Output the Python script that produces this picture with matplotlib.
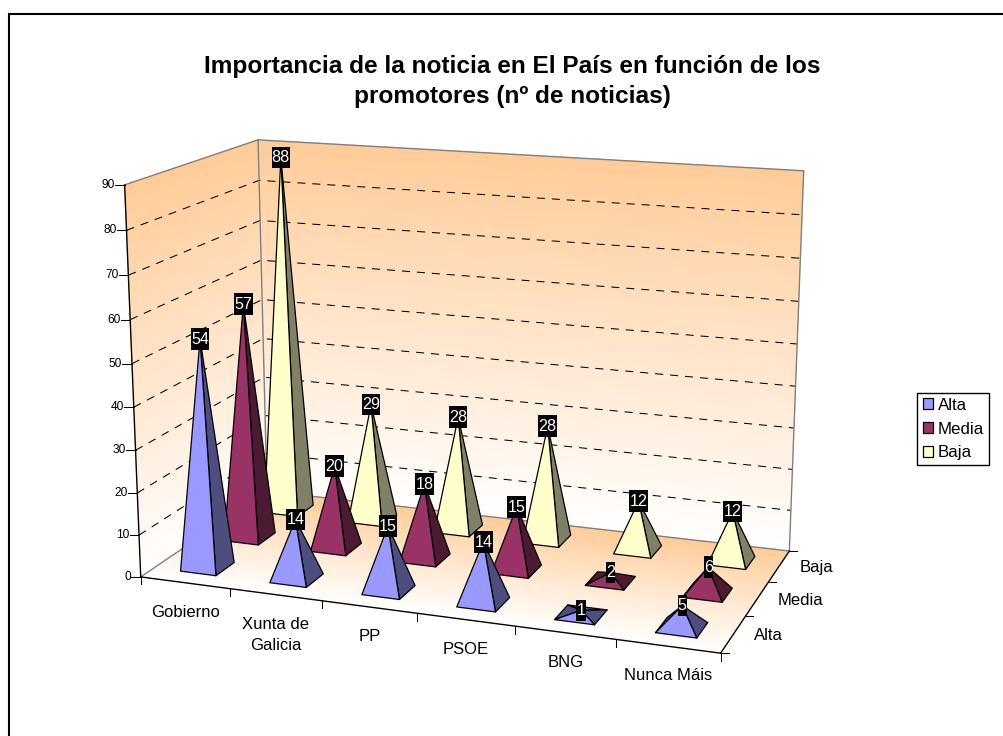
import numpy as np
import matplotlib
matplotlib.use("Agg")
import matplotlib.pyplot as plt
from matplotlib.colors import LinearSegmentedColormap
from matplotlib.patches import Patch, Polygon, Rectangle

plt.rcParams['font.family'] = ['Liberation Sans', 'DejaVu Sans']
plt.rcParams['lines.scale_dashes'] = False

# Chart data
categories = ["Gobierno", "Xunta de\nGalicia", "PP", "PSOE", "BNG", "Nunca Máis"]
series_names = ["Alta", "Media", "Baja"]
alta = [54, 14, 15, 14, 1, 5]
media = [57, 20, 18, 15, 2, 6]
baja = [88, 29, 28, 28, 12, 12]
value_ticks = [0, 10, 20, 30, 40, 50, 60, 70, 80, 90]
title_text = "Importancia de la noticia en El País en función de los\npromotores (nº de noticias)"

# Face colours per series: (lit front, shaded side)
face_colors = [("#9999FF", "#4D4D80"), ("#993366", "#4D1A33"), ("#FFFFCC", "#808066")]
WALL_TOP = "#FFCC99"

# Camera calibration: chart-space (category, depth, value) -> figure pixels
calib_world = np.array([
    [0, 0, 0], [1, 0, 0], [2, 0, 0], [3, 0, 0], [4, 0, 0], [5, 0, 0], [6, 0, 0],
    [6, 1, 0], [6, 2, 0], [6, 3, 0], [0, 3, 0],
    [0, 0, 90], [0, 3, 90], [6, 3, 90], [0, 0, 50], [0, 3, 40], [6, 3, 80],
], dtype=float)
calib_pixel = np.array([
    [141, 576], [230, 589], [322, 601.5], [417, 614], [515, 626], [616, 639], [721, 653],
    [745, 617], [769, 582], [789, 550], [268, 492],
    [125, 185], [258, 140], [804, 171], [132, 363], [262, 338], [802, 215],
], dtype=float)


def solve_camera(world, pixel):
    rows = []
    for (x, y, z), (px, py) in zip(world, pixel):
        z = z / 30.0
        rows.append([x, y, z, 1, 0, 0, 0, 0, -px * x, -px * y, -px * z, -px])
        rows.append([0, 0, 0, 0, x, y, z, 1, -py * x, -py * y, -py * z, -py])
    _, _, vt = np.linalg.svd(np.array(rows))
    return vt[-1].reshape(3, 4)


CAM = solve_camera(calib_world, calib_pixel)


def project(u, w, v):
    u, w, v = np.broadcast_arrays(np.asarray(u, float), np.asarray(w, float), np.asarray(v, float))
    d = CAM[2, 0] * u + CAM[2, 1] * w + CAM[2, 2] * v / 30.0 + CAM[2, 3]
    x = (CAM[0, 0] * u + CAM[0, 1] * w + CAM[0, 2] * v / 30.0 + CAM[0, 3]) / d
    y = (CAM[1, 0] * u + CAM[1, 1] * w + CAM[1, 2] * v / 30.0 + CAM[1, 3]) / d
    return x, y


fig = plt.figure(figsize=(10.04, 7.36), dpi=100, facecolor="white")
ax = fig.add_axes([0, 0, 1, 1])
ax.set_xlim(0, 1004)
ax.set_ylim(736, 0)
ax.axis("off")

# Outer chart frame
ax.add_patch(Rectangle((9, 14), 1200, 1200, fc="white", ec="black", lw=1.5, zorder=0))

wall_cmap = LinearSegmentedColormap.from_list("wall", ["#FFFFFF", WALL_TOP])
n_cat, n_ser = len(categories), len(series_names)
vmax = value_ticks[-1]

# Back wall, side wall and floor as gradient meshes
s = np.linspace(0, 1, 40)
S, T = np.meshgrid(s, s)
X, Y = project(S * n_cat, n_ser, T * vmax)
ax.pcolormesh(X, Y, T, cmap=wall_cmap, shading="gouraud", vmin=0, vmax=1, zorder=1)
X, Y = project(0, S * n_ser, T * vmax)
ax.pcolormesh(X, Y, T, cmap=wall_cmap, shading="gouraud", vmin=0, vmax=1, zorder=1)
X, Y = project(S * n_cat, T * n_ser, 0)
ax.pcolormesh(X, Y, T, cmap=wall_cmap, shading="gouraud", vmin=0, vmax=1, zorder=1)

# Dashed value gridlines across both walls
for v in value_ticks[1:-1]:
    xs, ys = project([0, 0, n_cat], [0, n_ser, n_ser], [v, v, v])
    ax.plot(xs, ys, color="black", lw=0.75, dashes=(5.8, 5.0), zorder=2)


def edge(p0, p1, color):
    xs, ys = project([p0[0], p1[0]], [p0[1], p1[1]], [p0[2], p1[2]])
    ax.plot(xs, ys, color=color, lw=1.0, zorder=3, solid_capstyle="projecting")


gray = "#808080"
edge((0, 0, vmax), (0, n_ser, vmax), gray)
edge((0, n_ser, vmax), (n_cat, n_ser, vmax), gray)
edge((n_cat, n_ser, vmax), (n_cat, n_ser, 0), gray)
edge((0, n_ser, vmax), (0, n_ser, 0), gray)
edge((0, 0, 0), (0, n_ser, 0), gray)
edge((0, n_ser, 0), (n_cat, n_ser, 0), gray)
edge((0, 0, vmax), (0, 0, 0), "black")
edge((0, 0, 0), (n_cat, 0, 0), "black")
edge((n_cat, 0, 0), (n_cat, n_ser, 0), "black")

# Value axis ticks and labels
for v in value_ticks:
    x, y = project(0, 0, v)
    ax.plot([x - 9.5, x], [y, y], color="black", lw=0.75, zorder=3)
    ax.text(x - 10, y, str(v), ha="right", va="center", fontsize=8.6, color="black", zorder=6)

# Category ticks and labels
for i in range(n_cat + 1):
    x, y = project(i, 0, 0)
    ax.plot([x, x], [y, y + 7.5], color="black", lw=0.75, zorder=3)
for i, name in enumerate(categories):
    x, y = project(i + 0.5, 0, 0)
    ax.text(x, y + 22, name, ha="center", va="top", fontsize=12, color="black",
            linespacing=1.5, zorder=6)

# Depth ticks and series labels
for j in range(n_ser + 1):
    x, y = project(n_cat, j, 0)
    ax.plot([x, x + 8], [y, y], color="black", lw=0.75, zorder=3)
for j, name in enumerate(series_names):
    x, y = project(n_cat, j + 0.5, 0)
    ax.text(x + 20.5, y + 1.5, name, ha="left", va="center", fontsize=12, color="black", zorder=6)


def signed_area(pts):
    a = np.asarray(pts)
    b = np.roll(a, -1, axis=0)
    return 0.5 * np.sum(a[:, 0] * b[:, 1] - b[:, 0] * a[:, 1])


HALF_W = 0.2
HALF_D = 0.21
series_values = [alta, media, baja]
z = 10.0
labels = []

# Pyramids, painted from the back row to the front row
for j in reversed(range(n_ser)):
    front, side = face_colors[j]
    for i in range(n_cat):
        value = series_values[j][i]
        cu, cw = i + 0.5, j + 0.5
        corner_u = [cu - HALF_W, cu + HALF_W, cu + HALF_W, cu - HALF_W]
        corner_w = [cw - HALF_D, cw - HALF_D, cw + HALF_D, cw + HALF_D]
        bx, by = project(corner_u, corner_w, 0)
        tip = project(cu, cw, value)
        faces = [((2, 3), side), ((3, 0), side), ((1, 2), side), ((0, 1), front)]
        for (a, b), color in faces:
            tri = [(bx[a], by[a]), (bx[b], by[b]), (float(tip[0]), float(tip[1]))]
            if signed_area(tri) < 0:
                ax.add_patch(Polygon(tri, closed=True, fc=color, ec="black", lw=0.9,
                                     joinstyle="round", zorder=z))
            z += 0.01
        labels.append((float(tip[0]), float(tip[1]), value))

# Value labels are centred on each pyramid tip, on black plates
for x, y, value in labels:
    text = str(value)
    w_box = 9.3 * len(text)
    ax.add_patch(Rectangle((x - w_box / 2, y - 10.85), w_box, 21.7, fc="black", ec="none", zorder=30))
    ax.text(x, y + 0.3, text, ha="center", va="center", fontsize=11.6, color="white", zorder=31)

ax.text(512.5, 81.5, title_text, ha="center", va="center", fontsize=17.6, fontweight="bold",
        color="black", linespacing=1.4, zorder=6)

handles = [Patch(fc=face_colors[k][0], ec="black", lw=0.9, label=series_names[k]) for k in range(n_ser)]
ax.legend(handles=handles, loc="upper left", bbox_to_anchor=(917.5, 392.7), bbox_transform=ax.transData,
          fontsize=12.2, frameon=True, fancybox=False, edgecolor="black", framealpha=1,
          handlelength=0.6, handleheight=0.6, handletextpad=0.28, labelspacing=0.52,
          borderpad=0.3, borderaxespad=0)

fig.savefig("out.png", dpi=100)
